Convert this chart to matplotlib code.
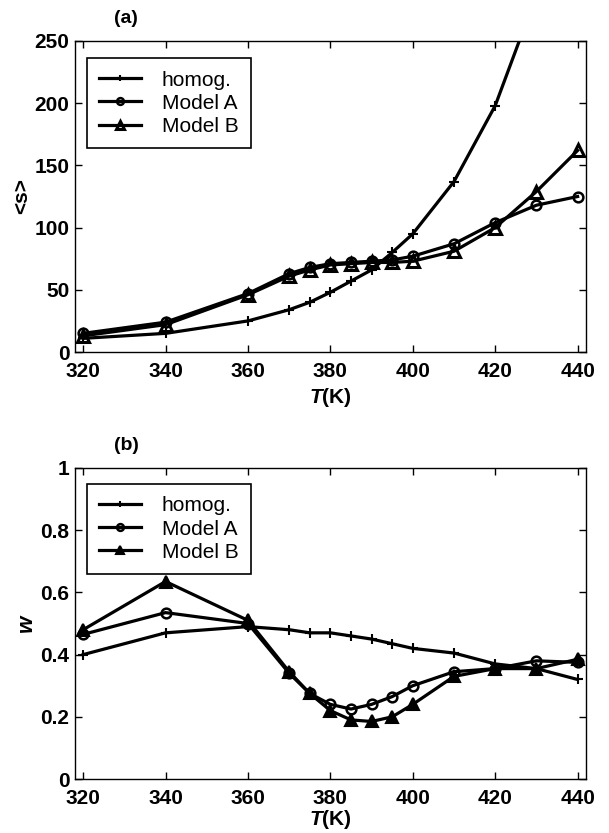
import matplotlib
matplotlib.use("Agg")
import matplotlib.pyplot as plt

plt.rcParams['font.family'] = ['Liberation Sans', 'DejaVu Sans']
plt.rcParams['mathtext.fontset'] = 'custom'
plt.rcParams['mathtext.it'] = 'Liberation Sans:bold:italic'
plt.rcParams['mathtext.rm'] = 'Liberation Sans:bold'

# temperatures (K)
T = [320, 340, 360, 370, 375, 380, 385, 390, 395, 400, 410, 420, 430, 440]

# (a) mean cluster size <s>
s_homog = [11, 15, 25, 34, 40, 48, 57, 66, 80, 95, 137, 198, 287, 415]
s_modelA = [15, 24, 47, 63, 68, 71, 72, 73, 74, 77, 87, 104, 118, 125]
s_modelB = [13, 22, 46, 61, 66, 70, 71, 72, 72, 73, 81, 100, 129, 162]

# (b) width w
w_homog = [0.40, 0.47, 0.49, 0.48, 0.47, 0.47, 0.46, 0.45, 0.435, 0.42, 0.405, 0.37, 0.355, 0.32]
w_modelA = [0.465, 0.535, 0.50, 0.34, 0.275, 0.24, 0.225, 0.24, 0.265, 0.30, 0.345, 0.355, 0.38, 0.375]
w_modelB = [0.48, 0.635, 0.51, 0.345, 0.275, 0.22, 0.19, 0.185, 0.20, 0.24, 0.33, 0.355, 0.355, 0.385]

labels = ['homog.', 'Model A', 'Model B']
xticks = [320, 340, 360, 380, 400, 420, 440]
yticks_a = [0, 50, 100, 150, 200, 250]
yticks_b = [0, 0.2, 0.4, 0.6, 0.8, 1]
yticklabels_b = ['0', '0.2', '0.4', '0.6', '0.8', '1']

fig = plt.figure(figsize=(6.09, 8.33), dpi=100)
ax1 = fig.add_axes([0.123, 0.5774, 0.839, 0.3734])
ax2 = fig.add_axes([0.123, 0.0648, 0.839, 0.3734])

lw = 2.3


def style(ax, xpad):
    ax.set_xlim(318, 442)
    ax.set_xticks(xticks)
    ax.tick_params(direction='in', top=True, right=True, length=5, width=1,
                   labelsize=15)
    ax.tick_params(axis='x', pad=7)
    ax.tick_params(axis='y', pad=4)
    for lab in ax.get_xticklabels() + ax.get_yticklabels():
        lab.set_fontweight('bold')
    for sp in ax.spines.values():
        sp.set_linewidth(1.0)
    ax.set_xlabel(r'$T$(K)', fontsize=15, fontweight='bold', labelpad=xpad)


# panel (a)
ax1.plot(T, s_homog, 'k-', marker='+', ms=7, mew=1.5, lw=lw, label=labels[0])
ax1.plot(T, s_modelA, 'k-', marker='o', ms=7, mfc='none', mew=1.8, lw=lw, label=labels[1])
ax1.plot(T, s_modelB, 'k-', marker='^', ms=9, mfc='none', mew=2.2, lw=lw, label=labels[2])
ax1.set_ylim(0, 250)
ax1.set_yticks(yticks_a)
style(ax1, 4)
ax1.set_ylabel('<s>', fontsize=15, fontweight='bold', labelpad=2)
ax1.text(0.1, 1.045, '(a)', transform=ax1.transAxes, fontsize=14, fontweight='bold',
         ha='center', va='bottom')

# panel (b)
ax2.plot(T, w_homog, 'k-', marker='+', ms=7, mew=1.5, lw=lw, label=labels[0])
ax2.plot(T, w_modelA, 'k-', marker='o', ms=7, mfc='none', mew=1.8, lw=lw, label=labels[1])
ax2.plot(T, w_modelB, 'k-', marker='^', ms=9, mfc='k', mew=1.5, lw=lw, label=labels[2])
ax2.set_ylim(0, 1)
ax2.set_yticks(yticks_b)
ax2.set_yticklabels(yticklabels_b)
style(ax2, 0.5)
ax2.set_ylabel(r'$w$', fontsize=16, labelpad=2)
ax2.text(0.1, 1.045, '(b)', transform=ax2.transAxes, fontsize=14, fontweight='bold',
         ha='center', va='bottom')

for ax, ytop in [(ax1, 0.945), (ax2, 0.949)]:
    leg = ax.legend(loc='upper left', bbox_to_anchor=(0.0235, ytop), borderaxespad=0,
                    fontsize=15, handlelength=2.0, handletextpad=1.0, labelspacing=0.2,
                    borderpad=0.6, fancybox=False, framealpha=1, edgecolor='k',
                    markerscale=0.7)
    leg.get_frame().set_linewidth(1.2)

fig.savefig('out.png', dpi=100)
